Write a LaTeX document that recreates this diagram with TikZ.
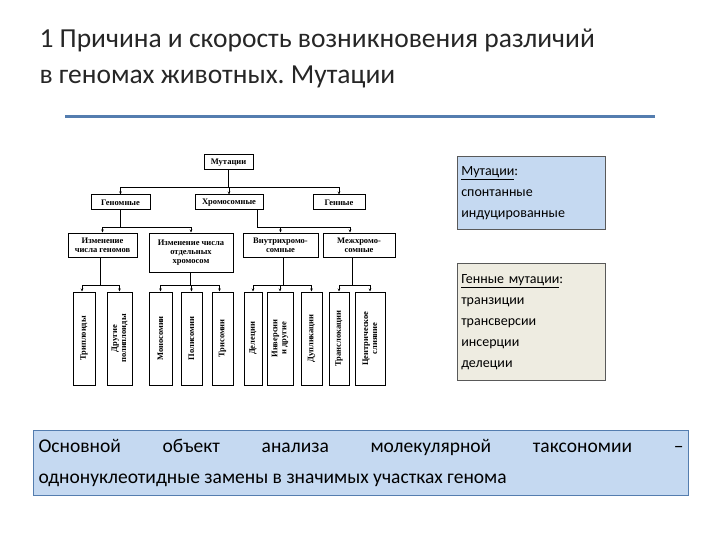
\documentclass[tikz,border=0pt]{standalone}
\usepackage{fontspec}
\usetikzlibrary{arrows.meta}
\setmainfont{Carlito}
\newfontfamily\dfont{Liberation Serif}
\begin{document}
\begin{tikzpicture}[x=1pt,y=-1pt,
 bx/.style={draw=black,line width=1pt,font=\dfont\bfseries\fontsize{8.5}{9}\selectfont,align=center,inner sep=1pt},
 lf/.style={bx,rotate=90},
 arr/.style={-{Stealth[length=3pt,width=2.5pt]},line width=0.7pt},
 info/.style={draw=gray!70!black,line width=0.6pt,anchor=north west,align=left,inner sep=4pt,font=\fontsize{14}{21}\selectfont,text width=140pt}]
\useasboundingbox (0,0) rectangle (720,540);
\node[anchor=north west,align=left,font=\fontsize{27.5}{36}\selectfont,text=black!85] (title) at (36,25) {1 Причина и скорость возникновения различий\\в геномах животных.\ Мутации};
\draw[line width=3pt,color={rgb,255:red,84;green,125;blue,175}] (65,117) coordinate (la) -- (655,117) coordinate (lb);
% tree
\node[bx,minimum width=49,minimum height=15] (m) at (228.5,162.5) {Мутации};
\node[bx,minimum width=59,minimum height=15] (g1) at (120.5,202.5) {Геномные};
\node[bx,minimum width=68,minimum height=15] (g2) at (229,202.5) {Хромосомные};
\node[bx,minimum width=52,minimum height=15] (g3) at (339,202.5) {Генные};
\node[bx,minimum width=69,minimum height=24] (b1) at (102.5,245) {Изменение\\числа геномов};
\node[bx,minimum width=84,minimum height=39] (b2) at (191,252.5) {Изменение числа\\отдельных\\хромосом};
\node[bx,minimum width=75,minimum height=24] (b3) at (280.5,245) {Внутрихромо-\\сомные};
\node[bx,minimum width=72,minimum height=24] (b4) at (359,245) {Межхромо-\\сомные};
\foreach \n/\cx/\w/\t in {l1/84/22/Триплоиды, l2/119.5/25/{Другие\\полиплоиды}, l3/160.5/23/Моносомии, l4/191.5/21/Полисомии, l5/222.5/21/Трисомии, l6/253/18/Делеции, l7/280/26/{Инверсии\\и другие}, l8/311.5/21/Дупликации, l9/339/20/Транслокации, l10/370/30/{Центрическое\\слияние}}
  \node[lf,minimum width=93,minimum height=\w] (\n) at (\cx,338.5) {\t};
\draw[arr] (m.south) -- ++(0,17) -| (g1.north);
\draw[arr] (m.south) -- ++(0,17) -| (g2.north);
\draw[arr] (m.south) -- ++(0,17) -| (g3.north);
\draw[arr] (g1.south) -- ++(0,17) -| (b1.north);
\draw[arr] (g1.south) -- ++(0,17) -| (b2.north);
\coordinate (c2) at (257,210);
\draw[arr] (c2) -- ++(0,17) -| (b3.north);
\draw[arr] (c2) -- ++(0,17) -| ([xshift=-9pt]b4.north);
\coordinate (c3) at (100,257);
\draw[arr] (c3) -- ++(0,28) -| ([xshift=-2pt]l1.east);
\draw[arr] (c3) -- ++(0,28) -| (l2.east);
\coordinate (c4) at (190,272);
\draw[arr] (c4) -- ++(0,13) -| (l3.east);
\draw[arr] (c4) -- ++(0,13) -| (l4.east);
\draw[arr] (c4) -- ++(0,13) -| ([xshift=-3pt]l5.east);
\coordinate (c5) at (283,257);
\draw[arr] (c5) -- ++(0,28) -| (l6.east);
\draw[arr] (c5) -- ++(0,28) -| (l7.east);
\draw[arr] (c5) -- ++(0,28) -| (l8.east);
\coordinate (c6) at (352,257);
\draw[arr] (c6) -- ++(0,28) -| (l9.east);
\draw[arr] (c6) -- ++(0,28) -| (l10.east);
% info boxes
\node[info,fill={rgb,255:red,197;green,217;blue,241},minimum height=73] (i1) at (457,156) {\underline{Мутации}:\\спонтанные\\индуцированные};
\node[info,fill={rgb,255:red,238;green,236;blue,225},minimum height=117] (i2) at (457,263) {\underline{Генные мутации}:\\транзиции\\трансверсии\\инсерции\\делеции};
\node[draw={rgb,255:red,84;green,125;blue,175},line width=1pt,fill={rgb,255:red,197;green,217;blue,241},anchor=north west,minimum width=655,minimum height=65,text width=645,align=justify,inner sep=4pt,font=\fontsize{19.5}{31}\selectfont] (i3) at (33,430) {Основной объект анализа молекулярной таксономии –\linebreak однонуклеотидные замены в значимых участках генома};
\end{tikzpicture}
\end{document}
